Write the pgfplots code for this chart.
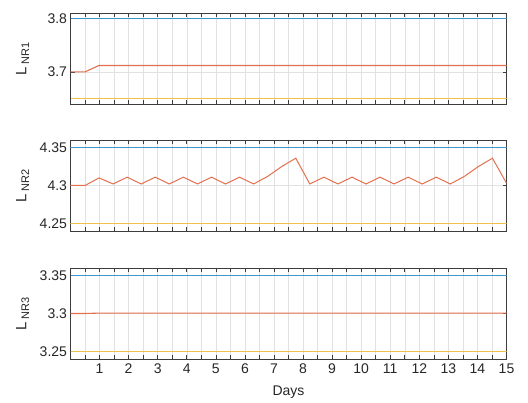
\documentclass[border=0pt]{standalone}
\usepackage{fontspec}
\setmainfont{Liberation Sans}
\usepackage{pgfplots}
\pgfplotsset{compat=1.18}
\definecolor{mblue}{RGB}{60,150,205}
\definecolor{mred}{RGB}{226,112,78}
\definecolor{myellow}{RGB}{238,192,72}
\definecolor{mgrid}{RGB}{225,225,225}
\definecolor{maxis}{RGB}{60,60,60}
\definecolor{mtext}{RGB}{38,38,38}
\pgfplotsset{mstyle/.style={
  scale only axis, width=436pt, height=91pt,
  anchor=south west,
  xmin=0, xmax=15,
  xtick={1,2,...,15}, minor xtick={0.5,1.5,...,14.5},
  grid=both,
  major grid style={mgrid, line width=0.5pt},
  minor grid style={mgrid, line width=0.5pt},
  tick align=inside, tick pos=both,
  major tick length=4pt, minor tick length=4pt,
  axis line style={maxis, line width=0.7pt},
  tick style={maxis, line width=0.6pt},
  every tick label/.append style={font=\fontsize{14}{16}\selectfont, text=mtext},
  xticklabel style={yshift=-1pt},
  /pgf/number format/assume math mode=true,
  /pgf/number format/fixed,
  /pgf/number format/precision=2,
  ylabel style={at={(axis description cs:-0.11,0.5)}, anchor=center, font=\fontsize{15}{16}\selectfont, text=mtext},
  xlabel style={font=\fontsize{14}{16}\selectfont, text=mtext, yshift=-6pt},
}}
\begin{document}
\begin{tikzpicture}
\path[use as bounding box] (0pt,0pt) rectangle (528pt,403pt);
% Panel 1
\begin{axis}[mstyle, at={(70.5pt,299pt)},
  ymin=3.64, ymax=3.81, ytick={3.7,3.8}, xticklabels={},
  ylabel={L\,\textsubscript{\fontsize{11}{12}\selectfont NR1}}]
\addplot[mblue, line width=1.1pt] coordinates {(0,3.8) (15,3.8)};
\addplot[mred, line width=1.1pt] coordinates {(0,3.7) (0.5,3.7) (0.983,3.712) (15,3.712)};
\addplot[myellow, line width=1.1pt] coordinates {(0,3.65) (15,3.65)};
\end{axis}
% Panel 2
\begin{axis}[mstyle, at={(70.5pt,172pt)},
  ymin=4.24, ymax=4.36, ytick={4.25,4.3,4.35}, xticklabels={},
  ylabel={L\,\textsubscript{\fontsize{11}{12}\selectfont NR2}}]
\addplot[mblue, line width=1.1pt] coordinates {(0,4.35) (15,4.35)};
\addplot[mred, line width=1.0pt] coordinates {
(0,4.3) (0.5,4.3) (0.983,4.310) (1.467,4.302) (1.950,4.311) (2.433,4.302)
(2.917,4.311) (3.400,4.302) (3.883,4.311) (4.367,4.302) (4.850,4.311)
(5.333,4.302) (5.817,4.311) (6.300,4.302) (6.783,4.312) (7.267,4.325)
(7.750,4.336) (8.233,4.302) (8.717,4.311) (9.200,4.302) (9.683,4.311)
(10.167,4.302) (10.650,4.311) (11.133,4.302) (11.617,4.311) (12.100,4.302)
(12.583,4.311) (13.067,4.302) (13.550,4.312) (14.033,4.325) (14.517,4.336)
(15.000,4.303)};
\addplot[myellow, line width=1.1pt] coordinates {(0,4.25) (15,4.25)};
\end{axis}
% Panel 3
\begin{axis}[mstyle, at={(70.5pt,44pt)},
  ymin=3.24, ymax=3.36, ytick={3.25,3.3,3.35},
  xlabel={Days},
  ylabel={L\,\textsubscript{\fontsize{11}{12}\selectfont NR3}}]
\addplot[mblue, line width=1.1pt] coordinates {(0,3.35) (15,3.35)};
\addplot[mred, line width=1.1pt] coordinates {(0,3.3) (0.5,3.3) (0.983,3.3005) (15,3.3005)};
\addplot[myellow, line width=1.1pt] coordinates {(0,3.25) (15,3.25)};
\end{axis}
\end{tikzpicture}
\end{document}
